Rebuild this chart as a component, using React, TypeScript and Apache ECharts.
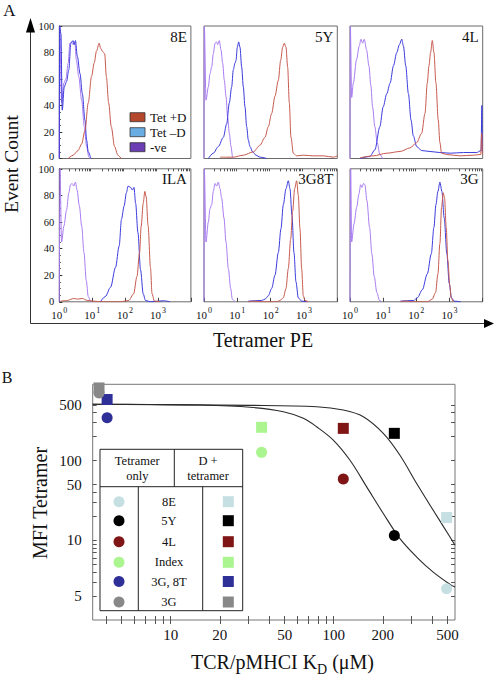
import React, { useEffect, useRef } from "react";
import * as echarts from "echarts";

const SERIF = "'Liberation Serif', 'Times New Roman', 'DejaVu Serif', serif";

// ---------- Panel A : tetramer staining histograms (x = log10 Tetramer PE, y = event count) ----------
const panelNames = ["8E", "5Y", "4L", "ILA", "3G8T", "3G"];
const legendNames = ["Tet +D", "Tet \u2013D", "-ve"];
const countTicks = [0, 20, 40, 60, 80, 100];

const tetPlusD_8E = [[0.27,0],[0.42,2.5],[0.57,6],[0.68,11],[0.78,21],[0.88,42],[0.98,62],[1.06,72],[1.13,81],[1.21,87],[1.26,83],[1.31,81],[1.38,79],[1.43,62],[1.5,42],[1.58,24],[1.68,9],[1.78,2.5],[1.88,0]];
const tetMinusD_8E = [[0,0],[0.01,100],[0.05,94],[0.09,36.5],[0.15,54],[0.22,58],[0.29,67],[0.35,87],[0.42,89],[0.45,86],[0.49,89],[0.55,77],[0.63,64],[0.7,49],[0.78,29],[0.83,14],[0.88,5],[0.96,0]];
const neg_8E = [[0,0],[0.01,100],[0.07,42],[0.14,57],[0.2,60],[0.27,72],[0.32,87],[0.37,88],[0.42,86],[0.47,88],[0.52,74],[0.59,62],[0.68,44],[0.76,24],[0.83,9],[0.9,1],[0.94,0]];

const tetPlusD_5Y = [[0.48,1],[0.68,1],[0.88,1],[1.18,2.5],[1.48,5],[1.68,10],[1.83,16],[1.93,24],[2.03,34],[2.13,47],[2.23,59],[2.3,74],[2.36,84],[2.41,87],[2.46,84],[2.51,69],[2.56,42],[2.61,16],[2.68,4],[2.78,2],[2.98,2.5],[3.28,2],[3.58,2],[3.88,1],[4,2]];
const tetMinusD_5Y = [[0.13,0],[0.28,4],[0.43,9],[0.58,16],[0.68,26],[0.76,42],[0.83,54],[0.88,67],[0.93,72],[0.96,74],[1.0,84],[1.04,88],[1.08,84],[1.13,69],[1.18,54],[1.23,39],[1.28,24],[1.33,14],[1.38,9],[1.46,5],[1.56,2.5],[1.68,1],[1.88,0]];
const neg_5Y = [[0,0],[0.01,100],[0.06,44],[0.13,54],[0.18,64],[0.23,69],[0.28,79],[0.33,87],[0.38,88],[0.41,86],[0.46,89],[0.51,82],[0.56,72],[0.61,59],[0.66,47],[0.71,31],[0.76,19],[0.81,9],[0.86,1],[0.9,0]];

const tetPlusD_4L = [[0.3,0.5],[0.7,2],[1.11,4],[1.51,5.3],[1.81,8],[2.01,12],[2.16,19],[2.26,34],[2.33,57],[2.38,70],[2.43,80],[2.48,89],[2.53,80],[2.59,57],[2.66,29],[2.71,12],[2.76,4],[2.91,3],[3.32,2],[3.72,2.5],[3.94,3],[3.97,19],[3.99,3]];
const tetMinusD_4L = [[0.3,0],[0.6,1.5],[0.75,6.5],[0.9,24],[1.0,39],[1.11,49],[1.21,57],[1.31,70],[1.41,80],[1.49,86],[1.56,90],[1.61,85],[1.68,70],[1.76,49],[1.84,29],[1.91,17],[2.01,9],[2.16,6],[2.41,5.3],[2.71,4.5],[3.02,4],[3.42,4.5],[3.82,4.5],[3.95,6],[3.975,40],[3.99,5]];
const neg_4L = [[0,0],[0.01,100],[0.05,46],[0.1,57],[0.2,75],[0.28,85],[0.33,90],[0.38,87],[0.43,90],[0.5,82],[0.57,70],[0.63,55],[0.68,39],[0.75,24],[0.82,12],[0.9,3],[0.98,0]];

const tetPlusD_ILA = [[0.04,0.5],[0.24,1],[0.44,2.5],[0.55,2],[0.7,2.5],[0.85,1],[1.25,0],[1.86,0],[2.11,1],[2.26,6],[2.36,19],[2.44,37],[2.49,57],[2.55,74],[2.6,83],[2.64,79],[2.7,57],[2.77,26],[2.82,6],[2.89,0.5],[3.07,0]];
const tetMinusD_ILA = [[1.25,0],[1.4,4],[1.56,11],[1.71,26],[1.82,42],[1.89,62],[1.97,72],[2.04,82],[2.09,87],[2.17,86],[2.22,84],[2.27,86],[2.32,74],[2.39,52],[2.47,24],[2.55,6],[2.62,1],[2.77,0],[3.17,0.8],[3.37,0]];
const neg_ILA = [[0,0],[0.02,100],[0.07,45],[0.14,57],[0.22,69],[0.29,82],[0.34,88],[0.39,89],[0.44,87],[0.49,90],[0.54,84],[0.61,72],[0.68,57],[0.75,37],[0.82,16],[0.88,4],[0.95,0.5],[1.0,0]];

const tetPlusD_3G8T = [[1.33,0],[1.5,0.5],[1.78,0],[2.18,0],[2.28,1],[2.38,3],[2.46,10],[2.53,25],[2.6,47],[2.66,68],[2.72,85],[2.78,91],[2.83,80],[2.88,55],[2.93,25],[2.98,4.5],[3.03,1],[3.13,0]];
const tetMinusD_3G8T = [[1.33,0.5],[1.73,1],[1.83,2],[1.93,4.5],[2.03,10],[2.13,20],[2.23,37],[2.31,55],[2.38,73],[2.46,85],[2.53,91],[2.58,85],[2.64,65],[2.7,37],[2.76,15],[2.83,3],[2.93,0.5],[3.08,0]];
const neg_3G8T = [[0,0],[0.01,100],[0.06,45],[0.13,60],[0.18,70],[0.23,73],[0.28,83],[0.33,89],[0.38,87],[0.43,90],[0.48,85],[0.53,78],[0.6,63],[0.66,45],[0.73,25],[0.8,10],[0.85,2],[0.93,0]];

const tetPlusD_3G = [[1.52,0],[1.67,0.7],[1.82,0],[2.33,0],[2.48,2],[2.58,7],[2.65,21],[2.71,44],[2.76,71],[2.81,82],[2.85,78],[2.9,56],[2.95,31],[3.01,12],[3.05,3],[3.11,0]];
const tetMinusD_3G = [[1.52,0.5],[1.92,1],[2.03,3],[2.18,9],[2.33,21],[2.45,36],[2.53,56],[2.59,73],[2.65,83],[2.71,90],[2.77,83],[2.84,63],[2.92,36],[2.99,14],[3.06,3],[3.14,0.5],[3.34,0]];
const neg_3G = [[0,0],[0.02,100],[0.05,45],[0.12,58.5],[0.2,71],[0.27,81],[0.32,88],[0.36,86],[0.41,89],[0.45,88],[0.51,76],[0.59,56],[0.66,36],[0.73,19],[0.81,7],[0.89,1],[0.96,0]];

const tetPlusD = [tetPlusD_8E, tetPlusD_5Y, tetPlusD_4L, tetPlusD_ILA, tetPlusD_3G8T, tetPlusD_3G];
const tetMinusD = [tetMinusD_8E, tetMinusD_5Y, tetMinusD_4L, tetMinusD_ILA, tetMinusD_3G8T, tetMinusD_3G];
const negative = [neg_8E, neg_5Y, neg_4L, neg_ILA, neg_3G8T, neg_3G];

// ---------- Panel B : MFI vs KD ----------
const bCategories = ["8E", "5Y", "4L", "Index", "3G, 8T", "3G"];
const bKd = [493, 235.5, 114.5, 36.1, 4.07, 3.63];
const bMfiTetOnly = [2.47, 11.5, 59.0, 127, 345, 706];
const bMfiDTet = [19.3, 220, 254, 262, 585, 817];
const bColors = ["#c6dfe3", "#000000", "#7f1515", "#aaf590", "#2f2f98", "#888888"];

const lowerFitKd = [3.32, 7.46, 15.1, 30.7, 49.1, 65.1, 78.6, 99.4, 125.9, 159.4, 201.5, 255, 323, 408, 517, 555];
const lowerFitMfi = [509, 506, 499, 467, 411, 340, 266, 181, 101, 46.8, 21.7, 10.5, 6.17, 3.99, 2.8, 2.59];
const upperFitKd = [3.32, 30.7, 78.6, 114.5, 151.9, 201.5, 255, 323, 408, 517, 555];
const upperFitMfi = [509, 494, 475, 431, 356, 220, 117, 51.6, 23.8, 11.0, 8.65];

const bXTickLabels = [10, 20, 50, 100, 200, 500];
const bXTicks = [4, 5, 6, 7, 8, 9, 10, 20, 30, 40, 50, 60, 70, 80, 90, 100, 200, 300, 400, 500];
const bYTickValues = [500, 100, 50, 10, 2];
const bYTickLabels = ["500", "100", "50", "10", "5"];
const bYTicks = [2, 3, 4, 5, 6, 7, 8, 9, 10, 20, 30, 40, 50, 100, 200, 300, 400, 500];

const lg = Math.log10;

function buildOption() {
  const panelRects = [
    { left: 59.3, top: 26, width: 131.6, height: 132.5 },
    { left: 204, top: 26, width: 133.3, height: 132.5 },
    { left: 350, top: 26, width: 132.7, height: 132.5 },
    { left: 59.3, top: 168.8, width: 131.6, height: 133 },
    { left: 204, top: 168.8, width: 133.3, height: 133 },
    { left: 350, top: 168.8, width: 132.7, height: 133 },
  ];
  const curveColors = ["#c65a4e", "#3b3bdc", "#a97cf2"];
  const legendColors = ["#b5472d", "#6aade2", "#6b3eb3"];
  const minorLog: number[] = [];
  for (let n = 0; n < 4; n++) for (let k = 2; k <= 9; k++) minorLog.push(n + lg(k));

  const grids: any[] = [];
  const xAxes: any[] = [];
  const yAxes: any[] = [];
  const series: any[] = [];
  const graphics: any[] = [];

  panelRects.forEach((r, i) => {
    const bottomRow = i >= 3;
    const leftCol = i % 3 === 0;
    grids.push({ ...r, show: true, borderColor: "#6b6b6b", borderWidth: 1 });
    const xMain = xAxes.length;
    xAxes.push({
      gridIndex: i, type: "value", min: 0, max: 4, interval: 1,
      axisLine: { show: false }, splitLine: { show: false },
      axisTick: { show: bottomRow, inside: true, length: 4, lineStyle: { color: "#444" } },
      axisLabel: {
        show: bottomRow, margin: 5, color: "#111",
        formatter: (v: number) => (v < 4 ? `{b|10}{s|${v}}` : ""),
        rich: {
          b: { fontSize: 11, fontFamily: SERIF, color: "#111", lineHeight: 14, verticalAlign: "bottom" },
          s: { fontSize: 8, fontFamily: SERIF, color: "#111", lineHeight: 9, verticalAlign: "top", padding: [0, 0, 0, 1] },
        },
      },
    });
    if (bottomRow) {
      xAxes.push({
        gridIndex: i, type: "value", min: 0, max: 4,
        axisLine: { show: false }, splitLine: { show: false }, axisLabel: { show: false },
        axisTick: { show: true, inside: true, length: 2.5, customValues: minorLog, lineStyle: { color: "#555" } },
      });
    }
    yAxes.push({
      gridIndex: i, type: "value", min: 0, max: 100, interval: 20,
      splitLine: { show: false },
      axisLine: { show: leftCol, lineStyle: { color: "#222" } },
      axisTick: { show: leftCol, inside: true, length: 3, lineStyle: { color: "#333" } },
      minorTick: { show: leftCol, splitNumber: 4, length: 1.5, lineStyle: { color: "#444" } },
      axisLabel: {
        show: leftCol, margin: 5, color: "#111", customValues: countTicks,
        formatter: (v: number) => (!bottomRow && v === 0 ? "{lo|0}" : bottomRow && v === 100 ? "{hi|100}" : `{n|${v}}`),
        rich: {
          n: { fontSize: 10.5, fontFamily: SERIF, color: "#111", lineHeight: 10 },
          lo: { fontSize: 10.5, fontFamily: SERIF, color: "#111", lineHeight: 10, padding: [0, 0, 4, 0] },
          hi: { fontSize: 10.5, fontFamily: SERIF, color: "#111", lineHeight: 10, padding: [2, 0, 0, 0] },
        },
      },
    });
    [tetPlusD[i], tetMinusD[i], negative[i]].forEach((d, k) => {
      series.push({
        type: "line", xAxisIndex: xMain, yAxisIndex: i, data: d, symbol: "none",
        smooth: 0.3, smoothMonotone: "x", silent: true, z: 3 - k,
        lineStyle: { width: 1, color: curveColors[k] },
      });
    });
    graphics.push({
      type: "text", x: r.left + r.width - 4, y: i < 3 ? 37 : 179, z: 20,
      style: { text: panelNames[i], fontSize: 15, fontFamily: SERIF, fill: "#111", align: "right", verticalAlign: "middle" },
    });
  });

  // legend for panel A (inside 8E)
  legendNames.forEach((n, k) => {
    graphics.push({ type: "rect", z: 20, shape: { x: 130, y: 112.7 + 15 * k, width: 15, height: 9 },
      style: { fill: legendColors[k], stroke: "#333", lineWidth: 0.8 } });
    graphics.push({ type: "text", z: 20, x: 150, y: 117.4 + 15 * k,
      style: { text: n, fontSize: 13, fontFamily: SERIF, fill: "#111", align: "left", verticalAlign: "middle" } });
  });

  // ---------- Panel B grid ----------
  const bGrid = grids.length;
  grids.push({ left: 92.7, top: 384.3, width: 362.3, height: 235.7, show: true, borderColor: "#777", borderWidth: 1 });
  const bxMin = lg(3.32), bxMax = lg(555), byMin = 0, byMax = 2.958;
  const bx = xAxes.length;
  xAxes.push({
    gridIndex: bGrid, type: "value", min: bxMin, max: bxMax,
    axisLine: { show: false }, splitLine: { show: false },
    axisTick: { show: true, inside: true, length: 4, customValues: bXTicks.map(lg), lineStyle: { color: "#555" } },
    axisLabel: { customValues: bXTickLabels.map(lg), formatter: (v: number) => String(Math.round(Math.pow(10, v))),
      fontSize: 15, fontFamily: SERIF, color: "#111", margin: 7 },
  });
  xAxes.push({
    gridIndex: bGrid, type: "value", position: "top", min: bxMin, max: bxMax,
    axisLine: { show: false }, splitLine: { show: false }, axisLabel: { show: false },
    axisTick: { show: true, inside: true, length: 4, customValues: bXTicks.map(lg), lineStyle: { color: "#555" } },
  });
  const by = yAxes.length;
  yAxes.push({
    gridIndex: bGrid, type: "value", min: byMin, max: byMax,
    axisLine: { show: false }, splitLine: { show: false },
    axisTick: { show: true, inside: true, length: 4, customValues: bYTicks.map(lg), lineStyle: { color: "#555" } },
    axisLabel: {
      customValues: bYTickValues.map(lg),
      formatter: (v: number) => {
        const idx = bYTickValues.findIndex((t) => Math.abs(lg(t) - v) < 1e-9);
        return idx >= 0 ? bYTickLabels[idx] : "";
      },
      fontSize: 15, fontFamily: SERIF, color: "#111", margin: 11,
    },
  });
  yAxes.push({
    gridIndex: bGrid, type: "value", position: "right", min: byMin, max: byMax,
    axisLine: { show: false }, splitLine: { show: false }, axisLabel: { show: false },
    axisTick: { show: true, inside: true, length: 4, customValues: bYTicks.map(lg), lineStyle: { color: "#555" } },
  });

  series.push({
    type: "line", xAxisIndex: bx, yAxisIndex: by, symbol: "none", smooth: 0.35, silent: true,
    data: upperFitKd.map((k, i) => [lg(k), lg(upperFitMfi[i])]),
    lineStyle: { width: 1.1, color: "#2a2a2a" },
  });
  series.push({
    type: "line", xAxisIndex: bx, yAxisIndex: by, symbol: "none", smooth: 0.35, silent: true,
    data: lowerFitKd.map((k, i) => [lg(k), lg(lowerFitMfi[i])]),
    lineStyle: { width: 1.1, color: "#2a2a2a" },
  });
  series.push({
    type: "scatter", xAxisIndex: bx, yAxisIndex: by, symbol: "rect", symbolSize: 11, silent: true, z: 4,
    itemStyle: { opacity: 1 },
    data: bCategories.map((c, i) => ({ name: c, value: [lg(bKd[i]), lg(bMfiDTet[i])], itemStyle: { color: bColors[i], opacity: 1 } })),
  });
  series.push({
    type: "scatter", xAxisIndex: bx, yAxisIndex: by, symbol: "circle", symbolSize: 11, silent: true, z: 5,
    itemStyle: { opacity: 1 },
    data: bCategories.map((c, i) => ({ name: c, value: [lg(bKd[i]), lg(bMfiTetOnly[i])], itemStyle: { color: bColors[i], opacity: 1 } })),
  });

  // ---------- Global graphics ----------
  const T = (text: string, x: number, y: number, size: number, extra: any = {}) => ({
    type: "text", x, y, z: 20, ...extra,
    style: { text, fontSize: size, fontFamily: SERIF, fill: "#111", align: "center", verticalAlign: "middle", ...(extra.style || {}) },
  });
  graphics.push(T("A", 9.5, 10, 17));
  graphics.push(T("B", 7, 377, 16));
  graphics.push({ type: "line", z: 20, shape: { x1: 30.5, y1: 30, x2: 30.5, y2: 323.5 }, style: { stroke: "#333", lineWidth: 1 } });
  graphics.push({ type: "polygon", z: 20, shape: { points: [[30.5, 18], [26, 32.5], [35, 32.5]] }, style: { fill: "#000" } });
  graphics.push({ type: "line", z: 20, shape: { x1: 30.5, y1: 323.5, x2: 486, y2: 323.5 }, style: { stroke: "#333", lineWidth: 1 } });
  graphics.push({ type: "polygon", z: 20, shape: { points: [[494, 323.5], [484, 319], [484, 328]] }, style: { fill: "#000" } });
  graphics.push(T("Event Count", 11, 164, 19.5, { rotation: Math.PI / 2 }));
  graphics.push(T("Tetramer PE", 263, 340, 20));
  graphics.push(T("MFI Tetramer", 40, 503, 20, { rotation: Math.PI / 2 }));
  graphics.push({
    type: "text", x: 282.5, y: 664, z: 20,
    style: {
      text: "{a|TCR/pMHCI K}{d|D}{a| (\u03bcM)}", align: "center", verticalAlign: "middle",
      rich: {
        a: { fontSize: 20, fontFamily: SERIF, fill: "#111", color: "#111", lineHeight: 24, verticalAlign: "top" },
        d: { fontSize: 14, fontFamily: SERIF, fill: "#111", color: "#111", lineHeight: 14, verticalAlign: "bottom" },
      },
    },
  });

  // legend table for panel B
  const tb = { x: 100, y: 449.3, w: 142.7, h: 161.4, head: 486.7 };
  graphics.push({ type: "rect", z: 20, shape: { x: tb.x, y: tb.y, width: tb.w, height: tb.h }, style: { fill: "#fff", stroke: "#222", lineWidth: 1 } });
  graphics.push({ type: "line", z: 21, shape: { x1: tb.x, y1: tb.head, x2: tb.x + tb.w, y2: tb.head }, style: { stroke: "#222", lineWidth: 1 } });
  graphics.push({ type: "line", z: 21, shape: { x1: 174.3, y1: tb.y, x2: 174.3, y2: tb.head }, style: { stroke: "#222", lineWidth: 1 } });
  graphics.push({ type: "line", z: 21, shape: { x1: 138.3, y1: tb.head, x2: 138.3, y2: tb.y + tb.h }, style: { stroke: "#222", lineWidth: 1 } });
  graphics.push({ type: "line", z: 21, shape: { x1: 202.7, y1: tb.head, x2: 202.7, y2: tb.y + tb.h }, style: { stroke: "#222", lineWidth: 1 } });
  graphics.push(T("Tetramer", 137.3, 461.3, 12.5, { z: 22 }));
  graphics.push(T("only", 137.3, 476.3, 12.5, { z: 22 }));
  graphics.push(T("D +", 208, 461.3, 12.5, { z: 22 }));
  graphics.push(T("tetramer", 208, 476.3, 12.5, { z: 22 }));
  const rowY = [501.7, 520.7, 541.7, 562.3, 581.5, 602];
  bCategories.forEach((c, i) => {
    graphics.push({ type: "circle", z: 22, shape: { cx: 119, cy: rowY[i], r: 5.5 }, style: { fill: bColors[i] } });
    graphics.push(T(c, 169, rowY[i], 12.5, { z: 22 }));
    graphics.push({ type: "rect", z: 22, shape: { x: 222.8, y: rowY[i] - 5.5, width: 11, height: 11 }, style: { fill: bColors[i] } });
  });

  return {
    animation: false,
    backgroundColor: "#ffffff",
    grid: grids,
    xAxis: xAxes,
    yAxis: yAxes,
    series,
    graphic: graphics,
  };
}

export default function App() {
  const ref = useRef<HTMLDivElement>(null);
  useEffect(() => {
    const chart = echarts.init(ref.current!, null, { renderer: "svg" });
    chart.setOption(buildOption() as any);
    return () => chart.dispose();
  }, []);
  return (
    <div
      ref={ref}
      style={{ position: "fixed", left: 0, top: 0, width: 494, height: 677, background: "#fff" }}
    />
  );
}
